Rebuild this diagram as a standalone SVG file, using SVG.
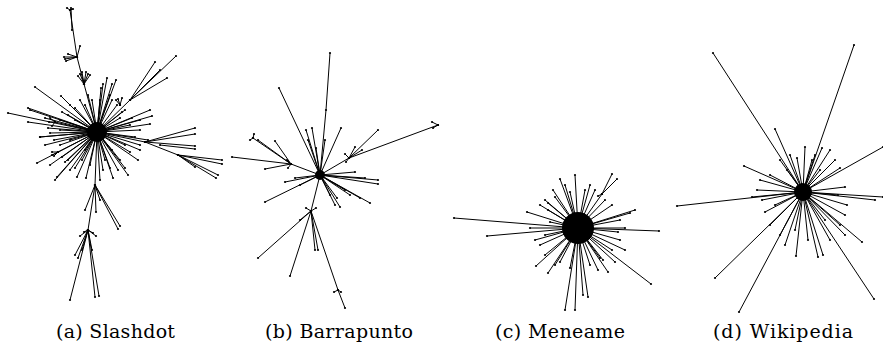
<svg xmlns="http://www.w3.org/2000/svg" width="883" height="345" viewBox="0 0 883 345">
<style>
.e{stroke:#000;stroke-width:1;fill:none;marker-start:url(#d);marker-mid:url(#d);marker-end:url(#d)}
.b{fill:#000}
.cap{font-family:"DejaVu Serif","Liberation Serif",serif;font-size:19px;fill:#000}
</style>
<defs>
<marker id="d" markerUnits="userSpaceOnUse" markerWidth="4" markerHeight="4" refX="2" refY="2"><circle cx="2" cy="2" r="1.1" fill="#000"/></marker>
</defs>
<rect width="883" height="345" fill="#fff"/>
<g id="slashdot">
<circle class="b" cx="97" cy="132" r="10"/>
<path class="e" d="M97 132L152 116M97 132L150 124M97 132L140 130M97 132L135 137M97 132L125 145M97 132L130 152M97 132L120 160M97 132L128 175M97 132L118 170M97 132L110 168M97 132L103 170M97 132L105 160M97 132L90 165M97 132L82 160M97 132L77 177M97 132L70 170M97 132L57 177M97 132L55 180M97 132L65 162M97 132L58 152M97 132L60 145M97 132L45 145M97 132L40 137M97 132L50 133M97 132L60 130M97 132L37 163M97 132L55 122M97 132L45 118M97 132L62 112M97 132L61 96M97 132L70 105M97 132L35 87M97 132L80 100M97 132L88 95M97 132L101 88M97 132L107 78M97 132L116 80M97 132L110 95M97 132L117 105M97 132L125 110M97 132L120 118M97 132L130 125M97 132L140 120M97 132L112 150M97 132L85 150M97 132L70 140M97 132L75 120M97 132L150 110M97 132L148 140M97 132L140 150M97 132L138 160M97 132L125 168M97 132L113 178M97 132L100 180M97 132L86 178M97 132L75 168M97 132L68 160M97 132L62 157M97 132L50 165M97 132L54 140M97 132L48 128M97 132L60 120M97 132L68 115M97 132L75 108M97 132L85 105M97 132L92 100M97 132L100 100M97 132L112 100M97 132L122 112M97 132L132 118M97 132L140 145M97 132L103 84M97 132L112 84"/>
<path class="e" d="M97 132L84 84L77 57L70 10M84 84L80 74M84 84L86 72M84 84L90 75M84 84L78 76M84 84L82 72M84 84L88 74M77 57L64 57M77 57L66 61M77 57L68 54M77 57L80 46M77 57L65 59M72 30L71 8M70 10L67 8M70 10L73 9"/>
<path class="e" d="M97 132L130 100L155 62M130 100L176 56M130 100L167 78M130 100L160 70M120 105L116 100M120 105L122 98M120 105L118 99"/>
<path class="e" d="M97 132L145 142L195 128M145 142L195 134M145 142L195 146M160 145L195 149M145 142L178 155L222 160M178 155L222 164M178 155L218 175M178 155L216 178M178 155L195 167"/>
<path class="e" d="M97 132L8 113M97 132L28 108M97 132L28 122M97 132L30 110M55 122L50 118M55 122L52 126M55 122L49 122M97 132L40 137M58 152L52 152M58 152L54 156M58 152L52 155"/>
<path class="e" d="M97 132L95 185L88 230L70 300M95 185L85 210M95 185L96 212M95 185L118 229M95 185L120 226M95 185L100 200M88 230L95 297M88 230L99 296M88 230L75 255M88 230L78 258M88 230L82 250M88 230L92 250M88 230L80 236M88 230L96 236M88 230L84 232M88 230L93 233"/>
</g>
<g id="barrapunto">
<circle class="b" cx="320" cy="175" r="5"/>
<path class="e" d="M320 175L326 110L330 53M320 175L279 88M320 175L306 130M320 175L312 128M320 175L341 128M320 175L308 140M320 175L316 148M320 175L325 140M320 175L378 180M320 175L378 184M320 175L370 203M320 175L360 198M320 175L340 207M320 175L335 205M320 175L350 195M320 175L285 182M320 175L265 202M320 175L295 178M320 175L355 172M320 175L330 195M320 175L337 198M320 175L345 190M320 175L365 178M320 175L300 185"/>
<path class="e" d="M320 175L291 164L253 138M291 164L275 141M291 164L232 157M291 164L265 169M291 164L258 140M253 138L254 134M253 138L250 140M291 164L287 160M291 164L288 168"/>
<path class="e" d="M320 175L349 158L438 125M349 158L378 130M349 158L355 147M349 158L362 150M438 125L432 122M438 125L433 128M349 158L345 154M349 158L346 162"/>
<path class="e" d="M320 175L311 211L258 258M311 211L290 276M311 211L315 250M311 211L318 250M311 211L338 290L345 308M311 211L300 220M338 290L334 292M338 290L341 292M311 211L306 208M311 211L316 208"/>
</g>
<g id="meneame">
<circle class="b" cx="578" cy="228" r="16"/>
<path class="e" d="M578 228L454 218M578 228L487 236M578 228L659 231M578 228L651 284M578 228L602 194L612 174M602 194L617 179M602 194L598 196M578 228L635 210M578 228L630 213M578 228L575 175M578 228L560 179M578 228L565 310M578 228L575 310M578 228L583 295M578 228L588 297M578 228L536 266M578 228L548 273M578 228L608 272M578 228L527 212M578 228L545 200M578 228L553 190M578 228L565 185M578 228L590 185M578 228L595 190M578 228L620 220M578 228L625 228M578 228L612 250M578 228L625 250M578 228L600 258M578 228L590 265M578 228L560 262M578 228L540 245M578 228L535 240M578 228L530 228M578 228L540 205M578 228L555 197M578 228L603 260M578 228L620 240M578 228L585 190M578 228L570 192M578 228L548 210M578 228L545 235M578 228L545 255M578 228L555 265M578 228L570 268M578 228L598 270M578 228L615 262M578 228L618 232M578 228L612 205M578 228L550 222M578 228L605 200M578 228L548 203"/>
</g>
<g id="wikipedia">
<circle class="b" cx="803" cy="192" r="9"/>
<path class="e" d="M803 192L713 53M803 192L854 45M803 192L883 147M803 192L677 206M803 192L715 278M803 192L739 312M803 192L874 299M803 192L862 242M803 192L796 256M803 192L818 257M803 192L823 255M803 192L775 129M803 192L805 147M803 192L744 166M803 192L883 197M803 192L875 200M803 192L847 205M803 192L845 215M803 192L840 225M803 192L845 187M803 192L835 160M803 192L840 168M803 192L830 150M803 192L822 148M803 192L790 155M803 192L780 160M803 192L760 180M803 192L757 190M803 192L762 200M803 192L765 212M803 192L770 225M803 192L780 235M803 192L785 245M803 192L808 240M803 192L830 240M803 192L845 235M803 192L820 170M803 192L787 170M803 192L797 158M803 192L815 155M803 192L770 175M803 192L775 205M803 192L795 230M803 192L825 220M803 192L838 195M803 192L812 160M803 192L752 197"/>
</g>
<g id="captions">
<text class="cap" x="56" y="338" textLength="119" lengthAdjust="spacing">(a) Slashdot</text>
<text class="cap" x="265" y="338" textLength="148" lengthAdjust="spacing">(b) Barrapunto</text>
<text class="cap" x="495" y="338" textLength="130" lengthAdjust="spacing">(c) Meneame</text>
<text class="cap" x="713" y="338" textLength="140" lengthAdjust="spacing">(d) Wikipedia</text>
</g>
</svg>
